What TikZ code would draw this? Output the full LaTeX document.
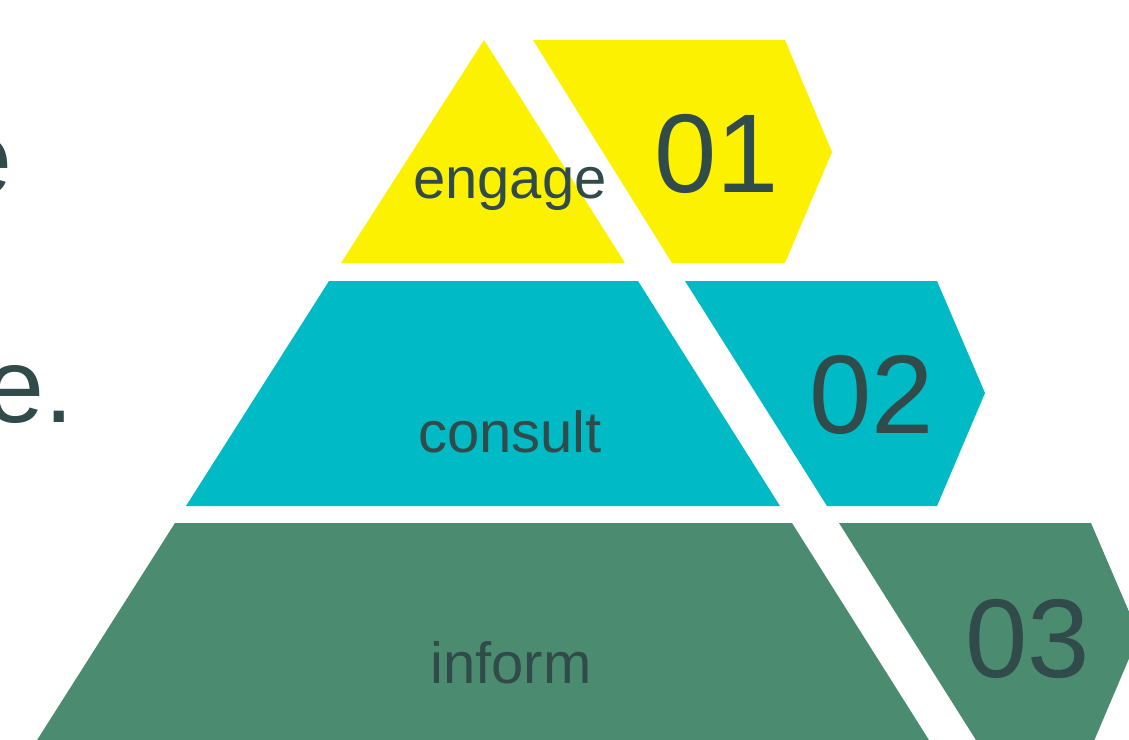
\documentclass[tikz,border=0pt]{standalone}
\usepackage{fontspec}
\setmainfont{Liberation Sans}
\usepackage{tikz}
\definecolor{tieryellow}{HTML}{FCF200}
\definecolor{tiercyan}{HTML}{00BAC5}
\definecolor{tiergreen}{HTML}{4B8C71}
\definecolor{inkslate}{HTML}{314A4A}
\tikzset{>=stealth,
  word/.style={text=inkslate,inner sep=0pt,anchor=base,font=\fontsize{58}{60}\selectfont},
  number/.style={text=inkslate,inner sep=0pt,anchor=base,font=\fontsize{112}{114}\selectfont},
  heading/.style={text=inkslate,inner sep=0pt,anchor=base west,font=\fontsize{106}{110}\selectfont}}

\begin{document}
\begin{tikzpicture}[x=1pt,y=-1pt]
          \useasboundingbox (0,0) rectangle (1129,739);
          \fill[white] (0,0) rectangle (1129,739);
          % pyramid
          \fill[tieryellow] (484,40) -- (625,263) -- (341,263) -- cycle;
          \fill[tiercyan] (329,281) -- (638,281) -- (780,506) -- (186,506) -- cycle;
          \fill[tiergreen] (175,523) -- (792,523) -- (934,748) -- (32,748) -- cycle;
          % arrows with numbers
          \fill[tieryellow] (533,40) -- (785,40) -- (832,152) -- (785,263) -- (672,263) -- cycle;
          \fill[tiercyan] (685,281) -- (937,281) -- (985,393) -- (937,506) -- (827,506) -- cycle;
          \fill[tiergreen] (839,523) -- (1091,523) -- (1139,635) -- (1091,748) -- (981,748) -- cycle;
          \node[word] (engage) at (510,198) {engage};
          \node[word] (consult) at (510,452) {consult};
          \node[word] (inform) at (511,683) {inform};
          \node[number] (num1) at (717,192) {01};
          \node[number] (num2) at (872,433) {02};
          \node[number] (num3) at (1028,677) {03};
          % cut-off heading on the left
          \node[heading] (headA) at (-47,194) {e};
          \node[heading] (headB) at (-15,422) {e.};
        \end{tikzpicture}
\end{document}
